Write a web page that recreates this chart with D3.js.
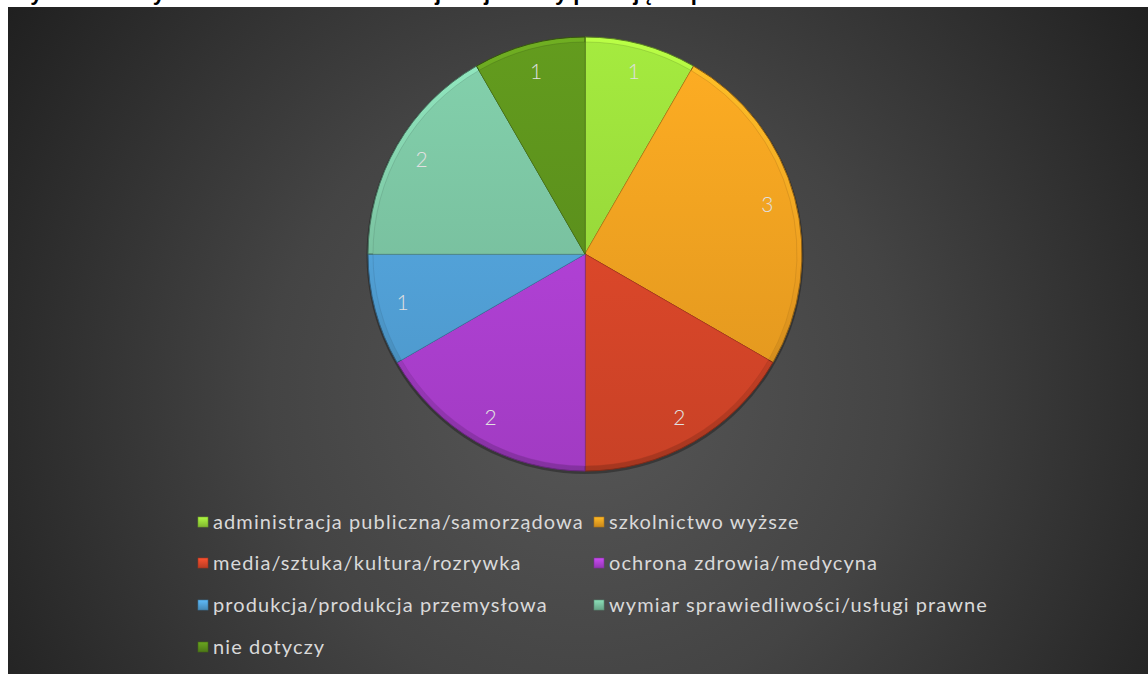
<!DOCTYPE html>
<html>
<head>
<meta charset="utf-8">
<script src="https://cdn.jsdelivr.net/npm/d3@7"></script>
<style>
  body { margin: 0; background: #ffffff; }
  svg { display: block; }
</style>
</head>
<body>
<svg id="chart" width="1148" height="674"></svg>
<script>
// data
const categories = [
    "administracja publiczna/samorządowa",
    "szkolnictwo wyższe",
    "media/sztuka/kultura/rozrywka",
    "ochrona zdrowia/medycyna",
    "produkcja/produkcja przemysłowa",
    "wymiar sprawiedliwości/usługi prawne",
    "nie dotyczy"
];
const counts = [1, 3, 2, 2, 1, 2, 1];
const sliceColors = ["#9ee13c", "#f9a722", "#e34a2b", "#b643dc", "#55a8e0", "#7ec9a6", "#5f951d"];
const titleText = "Wykres 4. Przynależność zawodowa – w jakiej branży pracują respondenci";

const svg = d3.select("#chart");
const width = 1148, height = 674;
const panel = { x: 8, y: 7 };
const center = { x: 585, y: 254 };
const radius = 217;

const defs = svg.append("defs");

// panel background
const bg = defs.append("radialGradient")
    .attr("id", "bgGrad")
    .attr("gradientUnits", "userSpaceOnUse")
    .attr("cx", 585).attr("cy", 390).attr("r", 700);
bg.append("stop").attr("offset", "0%").attr("stop-color", "#575757");
bg.append("stop").attr("offset", "45%").attr("stop-color", "#444444");
bg.append("stop").attr("offset", "100%").attr("stop-color", "#1f1f1f");

// title, cut off above the panel as in the source
svg.append("text")
    .attr("x", 10)
    .attr("y", 0)
    .attr("font-family", "Liberation Sans, Arial, sans-serif")
    .attr("font-weight", "bold")
    .attr("font-size", 22)
    .attr("fill", "#000")
    .text(titleText);

svg.append("rect")
    .attr("x", panel.x).attr("y", panel.y)
    .attr("width", width - panel.x).attr("height", height - panel.y)
    .attr("fill", "url(#bgGrad)");

// gradients for slices, bevel band and legend markers
const color = d3.scaleOrdinal().domain(categories).range(sliceColors);
categories.forEach((c, i) => {
    const base = d3.color(sliceColors[i]);
    const g = defs.append("linearGradient")
        .attr("id", "sg" + i)
        .attr("gradientUnits", "userSpaceOnUse")
        .attr("x1", 0).attr("y1", -radius).attr("x2", 0).attr("y2", radius);
    g.append("stop").attr("offset", "0%").attr("stop-color", base.brighter(0.12));
    g.append("stop").attr("offset", "100%").attr("stop-color", base.darker(0.35));

    const b = defs.append("linearGradient")
        .attr("id", "bg" + i)
        .attr("gradientUnits", "userSpaceOnUse")
        .attr("x1", 0).attr("y1", -radius).attr("x2", 0).attr("y2", radius);
    b.append("stop").attr("offset", "0%").attr("stop-color", base.brighter(0.45));
    b.append("stop").attr("offset", "50%").attr("stop-color", base.darker(0.1));
    b.append("stop").attr("offset", "100%").attr("stop-color", base.darker(0.9));

    const m = defs.append("linearGradient")
        .attr("id", "mg" + i)
        .attr("x1", 0).attr("y1", 0).attr("x2", 0).attr("y2", 1);
    m.append("stop").attr("offset", "0%").attr("stop-color", base.brighter(0.3));
    m.append("stop").attr("offset", "100%").attr("stop-color", base.darker(0.6));
});

const pie = d3.pie().sort(null).value(d => d);
const arcs = pie(counts);

const arc = d3.arc().innerRadius(0).outerRadius(radius);
const innerArc = d3.arc().innerRadius(0).outerRadius(radius - 5);
const labelArc = d3.arc().innerRadius(radius * 0.87).outerRadius(radius * 0.87);

const pieG = svg.append("g")
    .attr("transform", `translate(${center.x},${center.y})`);

// soft shadow behind the pie
pieG.append("circle")
    .attr("r", radius + 1.5)
    .attr("cy", 1.5)
    .attr("fill", "#000")
    .attr("opacity", 0.3);

const slices = pieG.selectAll(".slice")
    .data(arcs)
    .enter()
    .append("g")
    .attr("class", "slice");

// outer bevel band
slices.append("path")
    .attr("d", arc)
    .attr("fill", (d, i) => "url(#bg" + i + ")")
    .attr("stroke", (d, i) => d3.color(sliceColors[i]).darker(1.6))
    .attr("stroke-width", 1);

// main face
slices.append("path")
    .attr("d", innerArc)
    .attr("fill", (d, i) => "url(#sg" + i + ")")
    .attr("stroke", (d, i) => d3.color(sliceColors[i]).darker(0.8))
    .attr("stroke-opacity", 0.4)
    .attr("stroke-width", 1);

// data labels
pieG.selectAll(".val")
    .data(arcs)
    .enter()
    .append("text")
    .attr("class", "val")
    .attr("transform", d => `translate(${labelArc.centroid(d)})`)
    .attr("text-anchor", "middle")
    .attr("dy", "0.35em")
    .attr("font-family", "Lato, sans-serif")
    .attr("font-weight", 300)
    .attr("font-size", 21)
    .attr("fill", "#e0e0e0")
    .text(d => d.data);

// legend
const legend = svg.append("g").attr("class", "legend");
const colX = [198, 594];
const rowY = [522, 563, 605, 647];

const items = legend.selectAll(".legend-item")
    .data(categories)
    .enter()
    .append("g")
    .attr("class", "legend-item")
    .attr("transform", (d, i) => `translate(${colX[i % 2]},${rowY[Math.floor(i / 2)]})`);

items.append("rect")
    .attr("x", 0).attr("y", -5)
    .attr("width", 10).attr("height", 10)
    .attr("fill", (d, i) => "url(#mg" + i + ")")
    .attr("stroke", d => d3.color(color(d)).darker(1))
    .attr("stroke-width", 0.6);

items.append("text")
    .attr("x", 15)
    .attr("y", 0)
    .attr("dy", "0.35em")
    .attr("font-family", "Lato, sans-serif")
    .attr("font-size", 20)
    .attr("letter-spacing", 1.1)
    .attr("fill", "#d9d9d9")
    .text(d => d);
</script>
</body>
</html>
